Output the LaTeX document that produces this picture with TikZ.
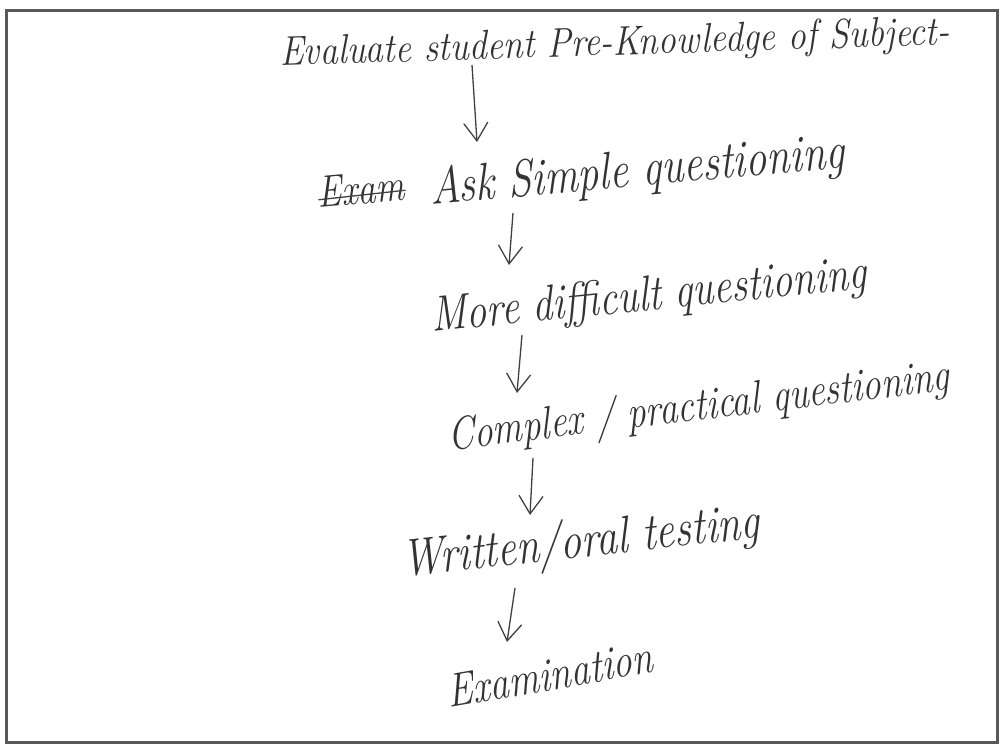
\documentclass[tikz,border=0pt]{standalone}
\usetikzlibrary{arrows.meta,calc}
\begin{document}
\begin{tikzpicture}[x=1pt,y=-1pt,
  hand/.style={transform shape, yscale=1.25, anchor=base, inner sep=0pt, text=black!80, font=\itshape},
  arr/.style={draw=black!75, line width=1.3pt, -{Straight Barb[length=18pt,width=24pt,line width=1.3pt]}}]
\useasboundingbox (0,0) rectangle (1002,745);
\draw[black!65, line width=3pt] (6,10) rectangle (997,742);
\node[hand, yscale=0.92, rotate=1.6, font=\fontsize{36}{40}\selectfont\itshape] (n1) at (615,55) {Evaluate student Pre-Knowledge of Subject-};
\node[hand, rotate=4, font=\fontsize{42}{46}\selectfont\itshape] (n2) at (638,186) {Ask Simple questioning};
\node[hand, rotate=4, font=\fontsize{36}{40}\selectfont\itshape] (ex) at (362,204) {Exam};
\draw[black!75, line width=1.3pt] ($(ex.base west)+(0,-8)$) -- ($(ex.base east)+(0,-10)$);
\node[hand, rotate=4.6, font=\fontsize{40}{44}\selectfont\itshape] (n3) at (650,310) {More difficult questioning};
\node[hand, rotate=5.5, font=\fontsize{37}{41}\selectfont\itshape] (n4) at (700,420) {Complex / practical questioning};
\node[hand, rotate=5, font=\fontsize{42}{46}\selectfont\itshape] (n5) at (582,557) {Written/oral testing};
\node[hand, rotate=8, font=\fontsize{38}{42}\selectfont\itshape] (n6) at (552,690) {Examination};
\draw[arr] ($(n1.base)+(-143,10)$) -- ($(n2.base)+(-161,-44)$);
\draw[arr] ($(n2.base)+(-125,27)$) -- ($(n3.base)+(-141,-45)$);
\draw[arr] ($(n3.base)+(-128,25)$) -- ($(n4.base)+(-183,-27)$);
\draw[arr] ($(n4.base)+(-167,38)$) -- ($(n5.base)+(-52,-42)$);
\draw[arr] ($(n5.base)+(-67,31)$) -- ($(n6.base)+(-45,-48)$);
\end{tikzpicture}
\end{document}
